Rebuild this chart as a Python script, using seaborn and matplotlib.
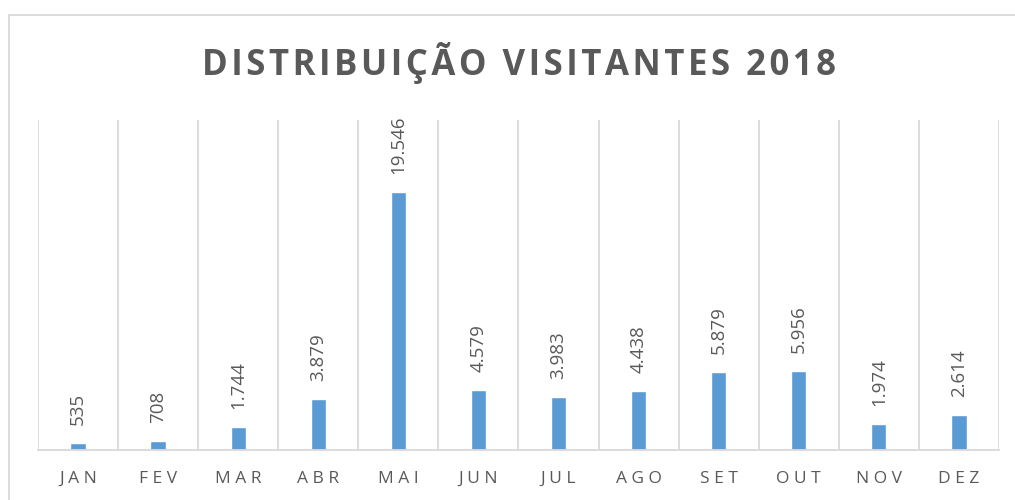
import numpy as np
import pandas as pd
import seaborn as sns
import matplotlib
matplotlib.use('Agg')
from matplotlib import pyplot as plt
from matplotlib.lines import Line2D

meses = ['JAN', 'FEV', 'MAR', 'ABR', 'MAI', 'JUN',
         'JUL', 'AGO', 'SET', 'OUT', 'NOV', 'DEZ']
visitantes = [535, 708, 1744, 3879, 19546, 4579,
              3983, 4438, 5879, 5956, 1974, 2614]
titulo = 'DISTRIBUIÇÃO VISITANTES 2018'

cinza = '#595959'
linha = '#D9D9D9'
azul = '#5B9BD5'

def fmt(v):
    # separador de milhares à portuguesa
    return '{:,}'.format(v).replace(',', '.')

def espacar(s, sep='\u2009'):
    return sep.join(s)

sns.set_style('white')
plt.rcParams['font.family'] = ['Open Sans', 'DejaVu Sans']

df = pd.DataFrame({'mes': meses, 'visitantes': visitantes})

fig = plt.figure(figsize=(10.15, 5.0), dpi=100)
ax = fig.add_axes([0.0374, 0.10, 0.9468, 0.66])

sns.barplot(data=df, x='mes', y='visitantes', color=azul, saturation=1,
            width=0.19, ax=ax)

ax.set_xlim(-0.5, len(meses) - 0.5)
ax.set_ylim(0, 25000)
ax.set_yticks([])
ax.set_xlabel('')
ax.set_ylabel('')

# grelha vertical nas fronteiras das categorias
ax.set_xticks(np.arange(len(meses) + 1) - 0.5, minor=True)
ax.grid(axis='x', which='minor', color=linha, lw=1.3)
ax.grid(axis='x', which='major', visible=False)
ax.tick_params(axis='x', which='both', length=0, pad=15)
ax.set_xticks(range(len(meses)))
ax.set_xticklabels([espacar(m, ' ') for m in meses], fontsize=12.5,
                   color=cinza)

for s in ['top', 'right', 'left']:
    ax.spines[s].set_visible(False)
ax.spines['bottom'].set_color(linha)
ax.spines['bottom'].set_linewidth(1.3)

for i, v in enumerate(visitantes):
    ax.annotate(fmt(v), (i, v), xytext=(0, 13), textcoords='offset points',
                rotation=90, ha='center', va='bottom', fontsize=13.5,
                color=cinza)

fig.text(0.511, 0.875, espacar(titulo, '\u200a'), ha='center', va='center',
         fontsize=25, fontweight='bold', color=cinza)

# moldura do gráfico (só esquerda e topo visíveis)
fig.add_artist(Line2D([0.0084, 0.0084], [0, 0.97], color=linha, lw=1.3,
                      transform=fig.transFigure))
fig.add_artist(Line2D([0.0084, 1], [0.97, 0.97], color=linha, lw=1.3,
                      transform=fig.transFigure))

fig.savefig('out.png', dpi=100, facecolor='white')
